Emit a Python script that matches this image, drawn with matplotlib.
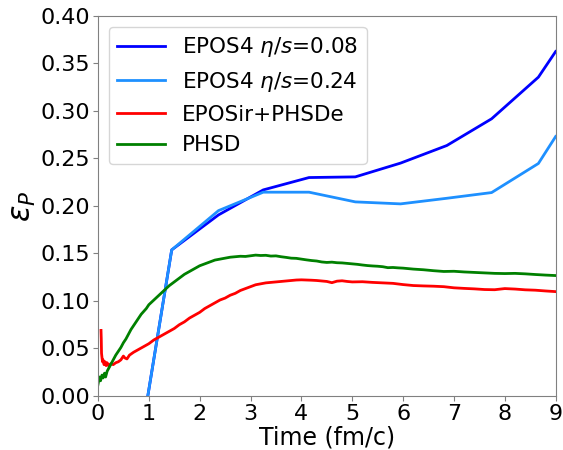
import numpy as np
import matplotlib
matplotlib.use("Agg")
import matplotlib.pyplot as plt

# EPOS4 hydro curves (coarse time grid)
t_epos = [0.98, 1.45, 2.37, 3.25, 4.15, 5.06, 5.95, 6.86, 7.74, 8.66, 9.0]
eps_eta008 = [0.0, 0.1537, 0.1905, 0.2168, 0.2298, 0.2305, 0.245, 0.2635, 0.2916, 0.3354, 0.3624]
eps_eta024 = [0.0, 0.1537, 0.195, 0.2144, 0.2144, 0.2042, 0.2021, 0.208, 0.214, 0.2446, 0.273]

# EPOSi+PHSDe
t_red = [0.06, 0.065, 0.07, 0.08, 0.09, 0.10, 0.12, 0.14, 0.16, 0.18, 0.20, 0.22, 0.25,
         0.30, 0.35, 0.40, 0.45, 0.50, 0.53, 0.57, 0.62, 0.70, 0.80, 0.90, 1.00, 1.10,
         1.20, 1.30, 1.40, 1.50, 1.60, 1.70, 1.80, 1.90, 2.00, 2.10, 2.20, 2.30, 2.40,
         2.50, 2.60, 2.70, 2.80, 2.90, 3.00, 3.10, 3.20, 3.30, 3.40, 3.50, 3.60, 3.70,
         3.80, 3.90, 4.00, 4.10, 4.20, 4.30, 4.40, 4.50, 4.60, 4.70, 4.80, 4.90, 5.00,
         5.20, 5.40, 5.60, 5.80, 6.00, 6.20, 6.40, 6.60, 6.80, 7.00, 7.20, 7.40, 7.60,
         7.80, 8.00, 8.20, 8.40, 8.60, 8.80, 9.00]
eps_red = [0.069, 0.060, 0.045, 0.040, 0.036, 0.038, 0.033, 0.036, 0.032, 0.035, 0.033,
           0.031, 0.034, 0.033, 0.035, 0.036, 0.038, 0.042, 0.040, 0.039, 0.043, 0.046,
           0.049, 0.052, 0.055, 0.059, 0.062, 0.065, 0.068, 0.071, 0.075, 0.078, 0.082,
           0.085, 0.088, 0.092, 0.095, 0.098, 0.101, 0.103, 0.106, 0.108, 0.111, 0.113,
           0.115, 0.117, 0.118, 0.119, 0.1195, 0.120, 0.1205, 0.121, 0.1215, 0.122,
           0.1222, 0.1220, 0.1218, 0.1215, 0.1210, 0.1205, 0.1192, 0.1208, 0.1212,
           0.1205, 0.1200, 0.1202, 0.1195, 0.1190, 0.1185, 0.1172, 0.1162, 0.1158,
           0.1155, 0.1150, 0.1138, 0.1132, 0.1127, 0.1120, 0.1118, 0.1130, 0.1125,
           0.1117, 0.1113, 0.1105, 0.1098]

# PHSD
t_green = [0.00, 0.03, 0.05, 0.08, 0.10, 0.13, 0.15, 0.18, 0.20, 0.25, 0.30, 0.35, 0.40,
           0.45, 0.50, 0.55, 0.60, 0.65, 0.70, 0.75, 0.80, 0.85, 0.90, 0.95, 1.00, 1.10,
           1.20, 1.30, 1.40, 1.50, 1.60, 1.70, 1.80, 1.90, 2.00, 2.10, 2.20, 2.30, 2.40,
           2.50, 2.60, 2.70, 2.80, 2.90, 3.00, 3.10, 3.20, 3.30, 3.40, 3.50, 3.60, 3.70,
           3.80, 3.90, 4.00, 4.10, 4.20, 4.30, 4.40, 4.50, 4.60, 4.70, 4.80, 4.90, 5.00,
           5.10, 5.20, 5.30, 5.40, 5.50, 5.60, 5.70, 5.80, 5.90, 6.00, 6.20, 6.40, 6.60,
           6.80, 7.00, 7.20, 7.40, 7.60, 7.80, 8.00, 8.20, 8.40, 8.60, 8.80, 9.00]
eps_green = [0.012, 0.020, 0.016, 0.022, 0.019, 0.024, 0.020, 0.026, 0.028, 0.033, 0.038,
             0.043, 0.047, 0.051, 0.056, 0.060, 0.065, 0.070, 0.074, 0.078, 0.082, 0.086,
             0.089, 0.092, 0.096, 0.101, 0.106, 0.111, 0.116, 0.120, 0.124, 0.128, 0.131,
             0.134, 0.137, 0.139, 0.141, 0.143, 0.144, 0.145, 0.146, 0.1465, 0.147,
             0.1468, 0.1475, 0.1482, 0.1478, 0.1480, 0.1472, 0.1474, 0.1465, 0.1458,
             0.1450, 0.1448, 0.1440, 0.1432, 0.1425, 0.1420, 0.1410, 0.1405, 0.1408,
             0.1402, 0.1400, 0.1395, 0.1390, 0.1385, 0.1378, 0.1372, 0.1368, 0.1365,
             0.1360, 0.1350, 0.1352, 0.1348, 0.1345, 0.1335, 0.1328, 0.1318, 0.1310,
             0.1312, 0.1305, 0.1300, 0.1295, 0.1290, 0.1288, 0.1290, 0.1285, 0.1278,
             0.1272, 0.1267]

fig = plt.figure(figsize=(5.63, 4.5), dpi=100)
ax = fig.add_axes([0.174, 0.12, 0.813, 0.845])

ax.plot(t_epos, eps_eta008, color="blue", lw=2, label=r"EPOS4 $\eta/s$=0.08")
ax.plot(t_epos, eps_eta024, color="dodgerblue", lw=2, label=r"EPOS4 $\eta/s$=0.24")
ax.plot(t_red, eps_red, color="red", lw=2, label="EPOSir+PHSDe")
ax.plot(t_green, eps_green, color="green", lw=2, label="PHSD")

ax.set_xlim(0, 9)
ax.set_ylim(0, 0.4)
ax.set_xticks(np.arange(0, 10, 1))
ax.set_yticks(np.arange(0, 0.41, 0.05))
ax.yaxis.set_major_formatter(matplotlib.ticker.FormatStrFormatter("%.2f"))
ax.tick_params(labelsize=16, color="gray", pad=2)
for s in ax.spines.values():
    s.set_color("gray")

ax.set_xlabel("Time (fm/c)", fontsize=17, labelpad=1)
ax.set_ylabel(r"$\varepsilon_P$", fontsize=22, labelpad=2)
ax.legend(loc="upper left", fontsize=15.5, handlelength=2.2)

fig.savefig("out.png", dpi=100)
